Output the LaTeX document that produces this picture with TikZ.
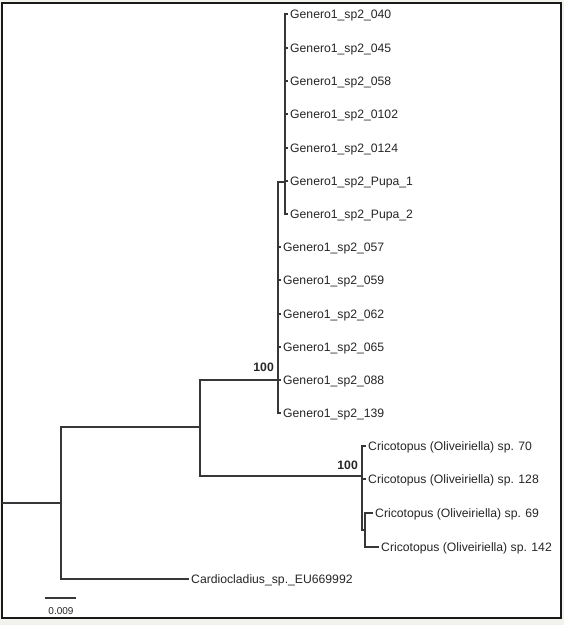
\documentclass[tikz,border=0pt]{standalone}
\usepackage{fontspec}
\setmainfont{Liberation Sans}
\usetikzlibrary{positioning}
\definecolor{pagegray}{RGB}{243,243,238}
\definecolor{branchgray}{RGB}{55,55,55}

\begin{document}
\begin{tikzpicture}[x=1pt,y=-1pt,every node/.style={font=\fontsize{12.2}{14}\selectfont,text=black!85},
  taxon/.style={anchor=west,inner sep=2pt,text height=8.7pt,text depth=0pt},
  support/.style={anchor=east,inner sep=0pt,text height=8.7pt,text depth=0pt,font=\fontsize{12.2}{14}\selectfont\bfseries},
  branch/.style={draw=branchgray,line width=1.2pt}]
% page and frame
\fill[pagegray] (0,0) rectangle (564,625);
\fill[white] (2,3) rectangle (561,618);
\draw[line width=1.5pt,black!90] (2,3) rectangle (561,618);
% inner nodes
\coordinate (root) at (2,503);
\coordinate (n1) at (61,503);
\coordinate (n2) at (200,427);
\coordinate (gen) at (278,380);
\coordinate (pupa) at (285,182);
\coordinate (cric) at (362,476);
\coordinate (cb) at (365,530);
% taxa
\node[taxon] (t040) at (288,14) {Genero1\_sp2\_040};
\node[taxon] (t045) at (288,48) {Genero1\_sp2\_045};
\node[taxon] (t058) at (288,81) {Genero1\_sp2\_058};
\node[taxon] (t0102) at (288,114) {Genero1\_sp2\_0102};
\node[taxon] (t0124) at (288,148) {Genero1\_sp2\_0124};
\node[taxon] (tp1) at (288,181) {Genero1\_sp2\_Pupa\_1};
\node[taxon] (tp2) at (288,214) {Genero1\_sp2\_Pupa\_2};
\node[taxon] (t057) at (281,247) {Genero1\_sp2\_057};
\node[taxon] (t059) at (281,280) {Genero1\_sp2\_059};
\node[taxon] (t062) at (281,314) {Genero1\_sp2\_062};
\node[taxon] (t065) at (281,347) {Genero1\_sp2\_065};
\node[taxon] (t088) at (281,380) {Genero1\_sp2\_088};
\node[taxon] (t139) at (281,413) {Genero1\_sp2\_139};
\node[taxon] (c70) at (366,446) {Cricotopus (Oliveiriella) sp. 70};
\node[taxon] (c128) at (366,479) {Cricotopus (Oliveiriella) sp. 128};
\node[taxon] (c69) at (373,513) {Cricotopus (Oliveiriella) sp. 69};
\node[taxon] (c142) at (379,547) {Cricotopus (Oliveiriella) sp. 142};
\node[taxon] (cardio) at (189,579) {Cardiocladius\_sp.\_EU669992};
% bootstrap values
\node[support] (bs1) at (274,367) {100};
\node[support] (bs2) at (358,465) {100};
% branches
\draw[branch] (root) -- (n1);
\draw[branch] (n1) |- (n2);
\draw[branch] (n1) |- (cardio.west);
\draw[branch] (n2) |- (gen);
\draw[branch] (n2) |- (cric);
\draw[branch] (gen) |- (pupa);
\draw[branch] (pupa) |- (t040.west);
\draw[branch] (pupa) |- (t045.west);
\draw[branch] (pupa) |- (t058.west);
\draw[branch] (pupa) |- (t0102.west);
\draw[branch] (pupa) |- (t0124.west);
\draw[branch] (pupa) |- (tp1.west);
\draw[branch] (pupa) |- (tp2.west);
\draw[branch] (gen) |- (t057.west);
\draw[branch] (gen) |- (t059.west);
\draw[branch] (gen) |- (t062.west);
\draw[branch] (gen) |- (t065.west);
\draw[branch] (gen) |- (t088.west);
\draw[branch] (gen) |- (t139.west);
\draw[branch] (cric) |- (c70.west);
\draw[branch] (cric) |- (c128.west);
\draw[branch] (cric) |- (cb);
\draw[branch] (cb) |- (c69.west);
\draw[branch] (cb) |- (c142.west);
% scale bar
\coordinate (sb1) at (45,598);
\coordinate (sb2) at (76,598);
\draw[branch] (sb1) -- (sb2);
\node[font=\fontsize{10}{12}\selectfont,inner sep=0pt] (sblabel) at (61,611) {0.009};
\end{tikzpicture}
\end{document}
